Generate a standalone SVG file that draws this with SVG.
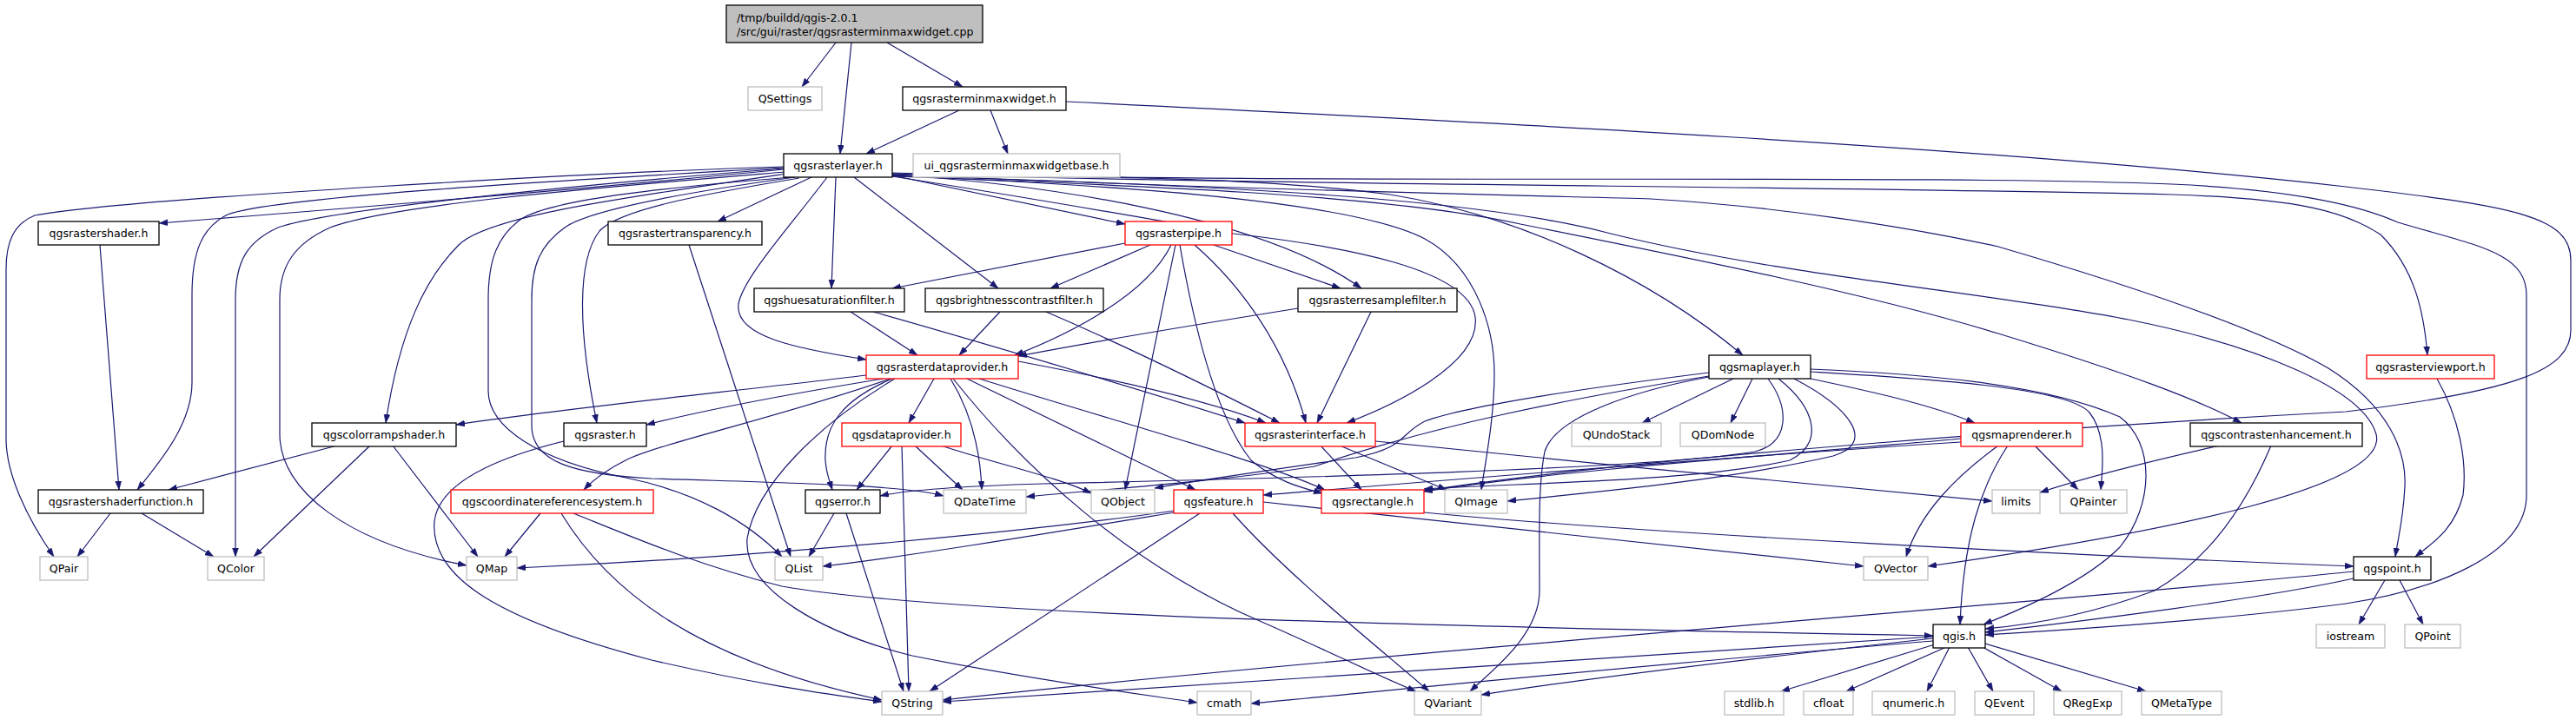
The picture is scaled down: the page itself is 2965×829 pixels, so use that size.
<svg xmlns="http://www.w3.org/2000/svg" width="2965" height="829" viewBox="0 0 2965 829">
<style>
text{font-family:"DejaVu Sans","Liberation Sans",sans-serif;font-size:12.6px;fill:#000;text-anchor:middle}
.root rect{fill:#bfbfbf;stroke:#000;stroke-width:1.3}
.root text{text-anchor:start}
.k rect{fill:#fff;stroke:#000;stroke-width:1.3}
.r rect{fill:#fff;stroke:#ff0000;stroke-width:1.3}
.g rect{fill:#fff;stroke:#bfbfbf;stroke-width:1.3}
#edges path{fill:none;stroke:#191970;stroke-width:1.2;marker-end:url(#a)}
</style>
<defs>
<marker id="a" markerUnits="userSpaceOnUse" markerWidth="11" markerHeight="8" refX="10" refY="3.5" orient="auto"><path d="M0,0 L10,3.5 L0,7 z" fill="#191970" stroke="#191970" stroke-width="0.5"/></marker>
</defs>
<rect width="2965" height="829" fill="#fff"/>
<g id="edges">
<path d="M962,49 L923,100"/>
<path d="M980,49 L967,177"/>
<path d="M1021,49 L1108,100"/>
<path d="M1104,127 L997,177"/>
<path d="M1140,127 L1160,177"/>
<path d="M1227,117 C1700,140 2300,170 2700,215 C2900,238 2959,250 2959,300 L2959,380 C2959,425 2900,450 2700,474 C2400,490 1900,525 1639,565"/>
<path d="M902,192 C700,198 150,228 40,248 C15,258 7,280 7,310 L7,505 C7,545 30,595 62,641"/>
<path d="M902,195 C700,215 400,240 183,257"/>
<path d="M902,193 C700,205 320,225 262,247 C232,262 221,290 221,340 L221,440 C221,485 190,525 158,564"/>
<path d="M902,194 C700,210 380,240 320,262 C285,278 271,300 271,345 L271,641"/>
<path d="M903,198 C700,215 450,235 380,262 C340,280 322,305 322,345 L322,500 C322,565 400,625 537,651"/>
<path d="M905,200 C700,230 560,250 528,282 C490,320 460,380 444,487"/>
<path d="M910,204 C780,215 640,228 600,252 C572,272 562,300 562,345 L562,450 C562,492 620,530 720,550 C800,566 860,600 900,641"/>
<path d="M915,204 C800,220 680,240 650,262 C622,282 612,305 612,345 L612,490 C612,532 660,546 750,551 C900,556 1040,558 1086,571"/>
<path d="M920,205 C800,225 712,242 690,266 C664,300 665,380 687,487"/>
<path d="M934,204 L826,255"/>
<path d="M952,204 C910,260 855,320 850,350 C845,388 920,402 997,414"/>
<path d="M962,204 L957,332"/>
<path d="M983,204 L1149,332"/>
<path d="M1027,202 L1295,258"/>
<path d="M1027,201 C1200,212 1450,248 1567,332"/>
<path d="M1027,202 C1250,212 1550,228 1640,275 C1700,308 1720,380 1720,430 C1720,480 1710,530 1705,564"/>
<path d="M1027,203 C1200,230 1380,262 1420,269 C1550,284 1690,310 1698,365 C1705,420 1600,468 1550,487"/>
<path d="M1027,200 C1250,203 1450,204 1600,224 C1750,248 1900,320 2006,409"/>
<path d="M1027,199 C1500,213 2200,200 2500,212 C2650,219 2720,238 2760,256 C2850,283 2908,290 2908,340 L2908,570 C2908,640 2800,680 2700,695 C2550,715 2350,727 2285,731"/>
<path d="M1027,200 C1500,214 2100,214 2500,224 C2650,229 2700,244 2740,270 C2780,310 2790,360 2794,409"/>
<path d="M1027,201 C1400,218 1800,226 1900,229 C2050,238 2200,262 2300,284 C2450,328 2600,378 2680,424 C2750,468 2770,520 2768,560 C2766,600 2760,620 2757,641"/>
<path d="M1027,203 C1300,213 1600,224 1750,258 C1950,298 2150,338 2300,384 C2450,430 2530,460 2580,487"/>
<path d="M1027,202 C1400,213 1700,228 1850,268 C2050,318 2300,338 2450,368 C2600,398 2720,448 2735,500 C2750,560 2500,612 2219,652"/>
<path d="M979,359 L1056,409"/>
<path d="M1005,359 C1150,400 1350,460 1433,487"/>
<path d="M1151,359 L1104,409"/>
<path d="M1204,359 C1300,400 1420,460 1473,487"/>
<path d="M1494,355 C1400,370 1250,395 1172,410"/>
<path d="M1578,359 L1516,487"/>
<path d="M1295,280 L1027,332"/>
<path d="M1324,282 L1209,332"/>
<path d="M1348,282 C1320,340 1230,385 1168,409"/>
<path d="M1353,282 L1295,564"/>
<path d="M1358,282 C1375,380 1400,480 1440,530 C1470,555 1500,562 1522,568"/>
<path d="M1375,282 C1430,330 1480,400 1503,487"/>
<path d="M1397,282 L1543,332"/>
<path d="M997,432 C850,450 650,470 525,489"/>
<path d="M1017,436 C900,455 800,475 744,489"/>
<path d="M1025,436 C900,480 760,510 720,530 C700,540 685,550 672,564"/>
<path d="M1027,436 C970,460 948,490 950,530 C951,545 955,555 958,564"/>
<path d="M1075,436 L1046,487"/>
<path d="M1094,436 C1115,470 1128,510 1130,564"/>
<path d="M1097,436 C1180,540 1300,650 1450,715 C1530,750 1590,780 1630,796"/>
<path d="M1030,436 C940,490 870,560 860,620 C855,680 950,730 1050,755 C1200,785 1320,800 1378,809"/>
<path d="M1113,436 L1376,564"/>
<path d="M1127,436 C1300,490 1450,530 1525,564"/>
<path d="M1172,416 C1300,440 1400,465 1457,487"/>
<path d="M1027,513 L986,564"/>
<path d="M1038,513 L1046,796"/>
<path d="M1053,513 L1108,564"/>
<path d="M1083,513 C1150,535 1220,550 1256,568"/>
<path d="M960,591 L931,641"/>
<path d="M974,591 L1040,796"/>
<path d="M1352,588 C1200,610 900,640 595,654"/>
<path d="M1352,590 C1200,615 1050,640 947,652"/>
<path d="M1381,591 L1070,796"/>
<path d="M1419,591 C1480,660 1580,740 1645,796"/>
<path d="M1454,578 C1700,605 1950,630 2145,652"/>
<path d="M1639,590 C1900,615 2400,640 2709,652"/>
<path d="M622,591 L581,641"/>
<path d="M646,591 C700,680 800,760 1015,806"/>
<path d="M660,591 C720,615 800,650 900,675 C1100,710 1700,722 2225,732"/>
<path d="M649,508 C560,530 505,560 500,600 C495,660 560,710 750,760 C880,790 960,800 1015,808"/>
<path d="M388,513 L194,564"/>
<path d="M426,513 L292,641"/>
<path d="M452,513 L550,641"/>
<path d="M115,282 L137,564"/>
<path d="M127,591 L89,641"/>
<path d="M163,591 L246,641"/>
<path d="M793,282 L910,641"/>
<path d="M2805,436 C2830,480 2840,530 2835,570 C2825,610 2800,625 2780,641"/>
<path d="M2745,668 L2715,719"/>
<path d="M2762,668 L2789,719"/>
<path d="M2709,666 C2600,690 2400,715 2285,728"/>
<path d="M2709,658 C2400,690 1600,750 1085,806"/>
<path d="M2555,513 C2480,530 2400,550 2348,567"/>
<path d="M2614,513 C2590,570 2550,640 2480,680 C2400,710 2330,720 2285,724"/>
<path d="M2225,733 C1800,760 1400,790 1085,808"/>
<path d="M2225,738 C1900,765 1600,795 1440,810"/>
<path d="M2225,735 C2000,760 1800,785 1705,800"/>
<path d="M2227,742 L2050,796"/>
<path d="M2240,745 L2125,796"/>
<path d="M2244,745 L2218,796"/>
<path d="M2265,745 L2294,796"/>
<path d="M2282,745 L2373,796"/>
<path d="M2285,741 L2470,796"/>
<path d="M1520,513 L1567,564"/>
<path d="M1542,513 L1665,564"/>
<path d="M1583,508 C1800,530 2100,560 2293,577"/>
<path d="M1995,436 L1890,487"/>
<path d="M2017,436 L1992,487"/>
<path d="M1967,434 C1880,450 1790,480 1778,520 C1770,560 1772,620 1772,680 C1772,730 1720,770 1692,796"/>
<path d="M1967,429 C1800,450 1680,470 1640,485 C1610,500 1620,515 1560,527 C1450,543 1380,553 1329,562"/>
<path d="M1967,433 C1800,460 1650,490 1513,537 C1400,555 1250,565 1181,572"/>
<path d="M2035,436 C2060,470 2060,510 2020,520 C1900,540 1500,550 1200,557 C1100,560 1040,565 1013,571"/>
<path d="M2047,436 C2090,470 2100,510 2060,530 C1950,555 1750,556 1639,563"/>
<path d="M2065,436 C2130,470 2160,510 2110,525 C1980,555 1800,570 1735,577"/>
<path d="M2084,436 C2150,450 2220,465 2273,487"/>
<path d="M2084,428 C2200,435 2380,445 2405,475 C2425,500 2420,540 2418,564"/>
<path d="M2084,425 C2200,430 2350,440 2440,480 C2480,510 2480,580 2440,630 C2400,670 2330,700 2283,719"/>
<path d="M2311,513 C2280,560 2260,620 2256,719"/>
<path d="M2342,513 L2392,564"/>
<path d="M2300,513 C2250,550 2210,590 2194,641"/>
<path d="M2257,505 C2100,520 1800,540 1639,566"/>
<path d="M2257,509 C2000,525 1700,550 1454,570"/>
</g>
<g id="n_root" class="root"><rect x="836" y="6" width="295" height="43"/><text x="848" y="25">/tmp/buildd/qgis-2.0.1</text><text x="848" y="41">/src/gui/raster/qgsrasterminmaxwidget.cpp</text></g>
<g id="n_QSettings" class="g"><rect x="861" y="100" width="85" height="27"/><text x="903.5" y="118">QSettings</text></g>
<g id="n_qgsrasterminmaxwidget_h" class="k"><rect x="1039" y="100" width="188" height="27"/><text x="1133" y="118">qgsrasterminmaxwidget.h</text></g>
<g id="n_qgsrasterlayer_h" class="k"><rect x="902" y="177" width="125" height="27"/><text x="964.5" y="195">qgsrasterlayer.h</text></g>
<g id="n_ui_qgsrasterminmaxwidgetbase_h" class="g"><rect x="1051" y="177" width="238" height="27"/><text x="1170" y="195">ui_qgsrasterminmaxwidgetbase.h</text></g>
<g id="n_qgsrastershader_h" class="k"><rect x="44" y="255" width="139" height="27"/><text x="113.5" y="273">qgsrastershader.h</text></g>
<g id="n_qgsrastertransparency_h" class="k"><rect x="700" y="255" width="177" height="27"/><text x="788.5" y="273">qgsrastertransparency.h</text></g>
<g id="n_qgsrasterpipe_h" class="r"><rect x="1295" y="255" width="123" height="27"/><text x="1356.5" y="273">qgsrasterpipe.h</text></g>
<g id="n_qgshuesaturationfilter_h" class="k"><rect x="868" y="332" width="173" height="27"/><text x="954.5" y="350">qgshuesaturationfilter.h</text></g>
<g id="n_qgsbrightnesscontrastfilter_h" class="k"><rect x="1065" y="332" width="205" height="27"/><text x="1167.5" y="350">qgsbrightnesscontrastfilter.h</text></g>
<g id="n_qgsrasterresamplefilter_h" class="k"><rect x="1494" y="332" width="183" height="27"/><text x="1585.5" y="350">qgsrasterresamplefilter.h</text></g>
<g id="n_qgsrasterdataprovider_h" class="r"><rect x="997" y="409" width="175" height="27"/><text x="1084.5" y="427">qgsrasterdataprovider.h</text></g>
<g id="n_qgsmaplayer_h" class="k"><rect x="1967" y="409" width="117" height="27"/><text x="2025.5" y="427">qgsmaplayer.h</text></g>
<g id="n_qgsrasterviewport_h" class="r"><rect x="2724" y="409" width="147" height="27"/><text x="2797.5" y="427">qgsrasterviewport.h</text></g>
<g id="n_qgscolorrampshader_h" class="k"><rect x="359" y="487" width="166" height="27"/><text x="442" y="505">qgscolorrampshader.h</text></g>
<g id="n_qgsraster_h" class="k"><rect x="649" y="487" width="95" height="27"/><text x="696.5" y="505">qgsraster.h</text></g>
<g id="n_qgsdataprovider_h" class="r"><rect x="969" y="487" width="137" height="27"/><text x="1037.5" y="505">qgsdataprovider.h</text></g>
<g id="n_qgsrasterinterface_h" class="r"><rect x="1433" y="487" width="150" height="27"/><text x="1508" y="505">qgsrasterinterface.h</text></g>
<g id="n_QUndoStack" class="g"><rect x="1809" y="487" width="103" height="27"/><text x="1860.5" y="505">QUndoStack</text></g>
<g id="n_QDomNode" class="g"><rect x="1934" y="487" width="98" height="27"/><text x="1983" y="505">QDomNode</text></g>
<g id="n_qgsmaprenderer_h" class="r"><rect x="2257" y="487" width="140" height="27"/><text x="2327" y="505">qgsmaprenderer.h</text></g>
<g id="n_qgscontrastenhancement_h" class="k"><rect x="2521" y="487" width="198" height="27"/><text x="2620" y="505">qgscontrastenhancement.h</text></g>
<g id="n_qgsrastershaderfunction_h" class="k"><rect x="44" y="564" width="190" height="27"/><text x="139" y="582">qgsrastershaderfunction.h</text></g>
<g id="n_qgscoordinatereferencesystem_h" class="r"><rect x="519" y="564" width="233" height="27"/><text x="635.5" y="582">qgscoordinatereferencesystem.h</text></g>
<g id="n_qgserror_h" class="k"><rect x="927" y="564" width="86" height="27"/><text x="970" y="582">qgserror.h</text></g>
<g id="n_QDateTime" class="g"><rect x="1086" y="564" width="95" height="27"/><text x="1133.5" y="582">QDateTime</text></g>
<g id="n_QObject" class="g"><rect x="1256" y="564" width="73" height="27"/><text x="1292.5" y="582">QObject</text></g>
<g id="n_qgsfeature_h" class="r"><rect x="1351" y="564" width="103" height="27"/><text x="1402.5" y="582">qgsfeature.h</text></g>
<g id="n_qgsrectangle_h" class="r"><rect x="1521" y="564" width="118" height="27"/><text x="1580" y="582">qgsrectangle.h</text></g>
<g id="n_QImage" class="g"><rect x="1663" y="564" width="72" height="27"/><text x="1699" y="582">QImage</text></g>
<g id="n_limits" class="g"><rect x="2293" y="564" width="55" height="27"/><text x="2320.5" y="582">limits</text></g>
<g id="n_QPainter" class="g"><rect x="2371" y="564" width="77" height="27"/><text x="2409.5" y="582">QPainter</text></g>
<g id="n_QPair" class="g"><rect x="46" y="641" width="55" height="27"/><text x="73.5" y="659">QPair</text></g>
<g id="n_QColor" class="g"><rect x="239" y="641" width="65" height="27"/><text x="271.5" y="659">QColor</text></g>
<g id="n_QMap" class="g"><rect x="537" y="641" width="58" height="27"/><text x="566" y="659">QMap</text></g>
<g id="n_QList" class="g"><rect x="892" y="641" width="55" height="27"/><text x="919.5" y="659">QList</text></g>
<g id="n_QVector" class="g"><rect x="2145" y="641" width="74" height="27"/><text x="2182" y="659">QVector</text></g>
<g id="n_qgspoint_h" class="k"><rect x="2709" y="641" width="89" height="27"/><text x="2753.5" y="659">qgspoint.h</text></g>
<g id="n_qgis_h" class="k"><rect x="2225" y="719" width="60" height="27"/><text x="2255" y="737">qgis.h</text></g>
<g id="n_iostream" class="g"><rect x="2666" y="719" width="79" height="27"/><text x="2705.5" y="737">iostream</text></g>
<g id="n_QPoint" class="g"><rect x="2768" y="719" width="64" height="27"/><text x="2800" y="737">QPoint</text></g>
<g id="n_QString" class="g"><rect x="1015" y="796" width="70" height="27"/><text x="1050" y="814">QString</text></g>
<g id="n_cmath" class="g"><rect x="1378" y="796" width="62" height="27"/><text x="1409" y="814">cmath</text></g>
<g id="n_QVariant" class="g"><rect x="1628" y="796" width="77" height="27"/><text x="1666.5" y="814">QVariant</text></g>
<g id="n_stdlib_h" class="g"><rect x="1985" y="796" width="68" height="27"/><text x="2019" y="814">stdlib.h</text></g>
<g id="n_cfloat" class="g"><rect x="2076" y="796" width="57" height="27"/><text x="2104.5" y="814">cfloat</text></g>
<g id="n_qnumeric_h" class="g"><rect x="2155" y="796" width="95" height="27"/><text x="2202.5" y="814">qnumeric.h</text></g>
<g id="n_QEvent" class="g"><rect x="2273" y="796" width="68" height="27"/><text x="2307" y="814">QEvent</text></g>
<g id="n_QRegExp" class="g"><rect x="2364" y="796" width="78" height="27"/><text x="2403" y="814">QRegExp</text></g>
<g id="n_QMetaType" class="g"><rect x="2465" y="796" width="92" height="27"/><text x="2511" y="814">QMetaType</text></g>
</svg>
